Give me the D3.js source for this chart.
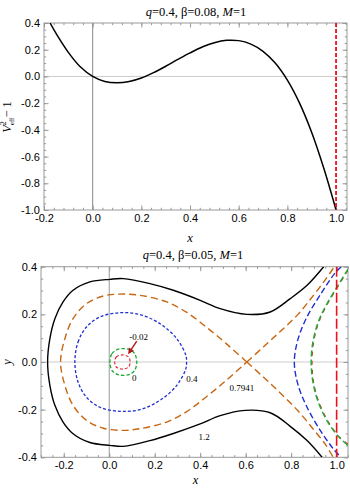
<!DOCTYPE html>
<html>
<head>
<meta charset="utf-8">
<script src="https://cdn.jsdelivr.net/npm/d3@7"></script>
<style>
body { margin: 0; background: #fff; }
svg { display: block; }
.tick text { font-family: "Liberation Sans", Arial, sans-serif; font-size: 11px; fill: #000; }
.domain { display: none; }
.tick line { stroke: #999; }
.ttl { font-family: "Liberation Serif", "Times New Roman", serif; font-size: 12.5px; }
.lvl { font-family: "Liberation Serif", "Times New Roman", serif; font-size: 9px; }
</style>
</head>
<body>
<svg id="chart" width="350" height="488"></svg>
<script>
// ---- top panel: V_eff^2 - 1 vs x  (q=0.4, beta=0.08, M=1)
const potX = [-0.175,-0.15,-0.1,-0.05,0,0.05,0.1,0.15,0.2,0.25,0.3,0.35,0.4,0.45,0.5,0.55,0.6,0.65,0.7,0.75,0.8,0.85,0.9,0.95,1.0];
const potY = [0.40,0.32,0.18,0.07,0,-0.038,-0.047,-0.038,-0.012,0.028,0.076,0.127,0.176,0.22,0.252,0.27,0.268,0.242,0.188,0.1,-0.028,-0.2,-0.42,-0.69,-1.0];
const topXTicks = [-0.2,0,0.2,0.4,0.6,0.8,1.0];
const topXLabels = ["-0.2","0.0","0.2","0.4","0.6","0.8","1.0"];
const topYTicks = [-1,-0.8,-0.6,-0.4,-0.2,0,0.2,0.4];
const topYLabels = ["-1.0","-0.8","-0.6","-0.4","-0.2","0.0","0.2","0.4"];
const horizonX = 1.0;

// ---- bottom panel: contours (q=0.4, beta=0.05, M=1)
const levelNames = ["-0.02","0","0.4","0.7941","1.2"];
const blackOuter = [[0.943,0.40],[0.87,0.322],[0.796,0.266],[0.708,0.21],[0.605,0.20],[0.488,0.224],[0.40,0.259],[0.282,0.301],[0.179,0.329],[0.062,0.35],[0.003,0.347],[-0.085,0.336],[-0.159,0.301],[-0.203,0.252],[-0.239,0.182],[-0.261,0.098],[-0.271,0],[-0.261,-0.098],[-0.239,-0.182],[-0.203,-0.252],[-0.159,-0.301],[-0.085,-0.338],[0.003,-0.35],[0.062,-0.354],[0.179,-0.33],[0.282,-0.30],[0.40,-0.26],[0.488,-0.225],[0.598,-0.203],[0.708,-0.213],[0.796,-0.27],[0.87,-0.33],[0.936,-0.40]];
const orangeLoop = [[0.605,0],[0.517,0.075],[0.429,0.145],[0.341,0.208],[0.253,0.252],[0.135,0.28],[0.047,0.285],[-0.026,0.277],[-0.1,0.245],[-0.159,0.182],[-0.195,0.098],[-0.214,0],[-0.195,-0.098],[-0.159,-0.182],[-0.1,-0.245],[-0.026,-0.278],[0.062,-0.287],[0.135,-0.28],[0.253,-0.252],[0.341,-0.208],[0.429,-0.145],[0.517,-0.075],[0.605,0]];
const orangeUp = [[0.605,0],[0.68,0.065],[0.752,0.128],[0.83,0.2],[0.9,0.282],[0.95,0.345],[0.99,0.40]];
const orangeDown = [[0.605,0],[0.68,-0.065],[0.752,-0.13],[0.83,-0.205],[0.9,-0.285],[0.95,-0.345],[0.985,-0.40]];
const blueLoop = [[-0.151,0],[-0.137,0.084],[-0.1,0.147],[-0.041,0.189],[0.047,0.207],[0.135,0.199],[0.223,0.161],[0.297,0.098],[0.337,0.028],[0.34,0],[0.337,-0.028],[0.297,-0.098],[0.223,-0.161],[0.135,-0.2],[0.047,-0.207],[-0.041,-0.19],[-0.1,-0.148],[-0.137,-0.084]];
const blueRight = [[1.02,0.40],[0.99,0.37],[0.93,0.285],[0.87,0.19],[0.83,0.095],[0.814,0],[0.83,-0.095],[0.87,-0.19],[0.93,-0.29],[0.99,-0.37],[1.02,-0.40]];
const greenLoop = [[0.003,0],[0.012,0.035],[0.035,0.052],[0.062,0.056],[0.09,0.052],[0.112,0.035],[0.121,0],[0.112,-0.035],[0.09,-0.052],[0.062,-0.056],[0.035,-0.052],[0.012,-0.035]];
const greenRight = [[1.05,0.39],[1.005,0.32],[0.955,0.24],[0.92,0.17],[0.897,0.09],[0.888,0],[0.897,-0.09],[0.92,-0.17],[0.96,-0.25],[1.01,-0.315],[1.05,-0.35]];
const redLoop = [[0.024,0],[0.031,0.021],[0.058,0.03],[0.085,0.021],[0.092,0],[0.085,-0.021],[0.058,-0.03],[0.031,-0.021]];
const redRight = [[1.05,0.385],[1.008,0.32],[0.958,0.24],[0.923,0.17],[0.9,0.09],[0.892,0],[0.9,-0.09],[0.923,-0.17],[0.963,-0.25],[1.013,-0.315],[1.05,-0.345]];
const botXTicks = [-0.2,0,0.2,0.4,0.6,0.8,1.0];
const botXLabels = ["-0.2","0.0","0.2","0.4","0.6","0.8","1.0"];
const botYTicks = [-0.4,-0.2,0,0.2,0.4];
const botYLabels = ["-0.4","-0.2","0.0","0.2","0.4"];

const svg = d3.select("#chart");

function frameAxes(g, x, y, xt, xl, yt, yl, xMinor, yMinor) {
    const [x0, x1] = x.range();
    const [y0, y1] = y.range();   // y0 bottom, y1 top
    const sides = [
        {mk: () => d3.axisBottom(x), t: `translate(0,${y0})`, lab: true, vals: xt, labs: xl, minor: xMinor},
        {mk: () => d3.axisTop(x), t: `translate(0,${y1})`, lab: false, vals: xt, minor: xMinor},
        {mk: () => d3.axisLeft(y), t: `translate(${x0},0)`, lab: true, vals: yt, labs: yl, minor: yMinor},
        {mk: () => d3.axisRight(y), t: `translate(${x1},0)`, lab: false, vals: yt, minor: yMinor}
    ];
    sides.forEach(s => {
        g.append("g").attr("transform", s.t)
            .call(s.mk().tickValues(s.minor).tickSizeInner(-2.2).tickSizeOuter(0).tickFormat(""));
        g.append("g").attr("transform", s.t)
            .call(s.mk().tickValues(s.vals).tickSizeInner(-4.5).tickSizeOuter(0).tickPadding(4)
                .tickFormat(s.lab ? (d, i) => s.labs[i] : ""));
    });
    g.append("rect").attr("x", x0).attr("y", y1)
        .attr("width", x1 - x0).attr("height", y0 - y1)
        .attr("fill", "none").attr("stroke", "#999").attr("stroke-width", 1);
}

function title(g, cx, cy, beta) {
    const t = g.append("text").attr("class", "ttl").attr("x", cx).attr("y", cy).attr("text-anchor", "middle");
    t.append("tspan").attr("font-style", "italic").text("q");
    t.append("tspan").text("=0.4, β=" + beta + ", ");
    t.append("tspan").attr("font-style", "italic").text("M");
    t.append("tspan").text("=1");
}

// ================= top panel
const xT = d3.scaleLinear().domain([-0.2, 1.045]).range([44, 347]);
const yT = d3.scaleLinear().domain([-1, 0.4]).range([210, 23]);

svg.append("clipPath").attr("id", "clipT").append("rect")
    .attr("x", 44).attr("y", 23).attr("width", 303).attr("height", 187);

const topG = svg.append("g");
topG.append("line").attr("x1", xT.range()[0]).attr("x2", xT.range()[1])
    .attr("y1", yT(0)).attr("y2", yT(0)).attr("stroke", "#ccc");
topG.append("line").attr("x1", xT(0)).attr("x2", xT(0))
    .attr("y1", yT(-1)).attr("y2", yT(0.4)).attr("stroke", "#888");

frameAxes(topG, xT, yT, topXTicks, topXLabels, topYTicks, topYLabels,
    d3.range(-0.2, 1.045, 0.04), d3.range(-1, 0.401, 0.05));

const lineT = d3.line().x((d, i) => xT(potX[i])).y((d, i) => yT(potY[i])).curve(d3.curveCatmullRom);
topG.append("path").attr("clip-path", "url(#clipT)")
    .attr("d", lineT(potX)).attr("fill", "none").attr("stroke", "#000").attr("stroke-width", 1.5);

topG.append("line").attr("x1", xT(horizonX)).attr("x2", xT(horizonX))
    .attr("y1", yT(0.4)).attr("y2", yT(-1))
    .attr("stroke", "#f01018").attr("stroke-width", 1.8).attr("stroke-dasharray", "4,2");

title(topG, 196, 16, "0.08");
topG.append("text").attr("class", "ttl").attr("x", xT(0.4)).attr("y", 242)
    .attr("text-anchor", "middle").attr("font-style", "italic").attr("font-size", 14).text("x");

const yl = topG.append("text").attr("class", "ttl")
    .attr("transform", "translate(11,117) rotate(-90)").attr("text-anchor", "middle").attr("font-size", 14);
yl.append("tspan").attr("font-style", "italic").text("V");
yl.append("tspan").attr("font-size", 8).attr("dy", -5).text("2");
yl.append("tspan").attr("font-size", 7).attr("dx", -4).attr("dy", 8).text("eff");
yl.append("tspan").attr("dy", -3).text("\u2212 1");

// ================= bottom panel
const xB = d3.scaleLinear().domain([-0.3, 1.05]).range([41, 348]);
const yB = d3.scaleLinear().domain([-0.4, 0.4]).range([457.3, 266.7]);

svg.append("clipPath").attr("id", "clipB").append("rect")
    .attr("x", 41).attr("y", 266.7).attr("width", 307).attr("height", 190.6);

const botG = svg.append("g");
botG.append("line").attr("x1", xB.range()[0]).attr("x2", xB.range()[1])
    .attr("y1", yB(0)).attr("y2", yB(0)).attr("stroke", "#ccc");
botG.append("line").attr("x1", xB(0)).attr("x2", xB(0))
    .attr("y1", yB(-0.4)).attr("y2", yB(0.4)).attr("stroke", "#999");

frameAxes(botG, xB, yB, botXTicks, botXLabels, botYTicks, botYLabels,
    d3.range(-0.3, 1.051, 0.05), d3.range(-0.4, 0.401, 0.05));

const lineB = d3.line().x(d => xB(d[0])).y(d => yB(d[1])).curve(d3.curveCatmullRom);
const loopB = d3.line().x(d => xB(d[0])).y(d => yB(d[1])).curve(d3.curveCatmullRomClosed);
const cg = botG.append("g").attr("clip-path", "url(#clipB)").attr("fill", "none");

const orange = "#c8650f", blue = "#1f2fd0", green = "#22aa33", red = "#e0202a";
cg.append("path").attr("d", lineB(blackOuter)).attr("stroke", "#000").attr("stroke-width", 1.4);
[orangeLoop, orangeUp, orangeDown].forEach(c =>
    cg.append("path").attr("d", lineB(c)).attr("stroke", orange).attr("stroke-width", 1.4).attr("stroke-dasharray", "7,4"));
cg.append("path").attr("d", loopB(blueLoop)).attr("stroke", blue).attr("stroke-width", 1.3).attr("stroke-dasharray", "3,2");
cg.append("path").attr("d", lineB(blueRight)).attr("stroke", blue).attr("stroke-width", 1.4).attr("stroke-dasharray", "6,3");
cg.append("path").attr("d", loopB(greenLoop)).attr("stroke", green).attr("stroke-width", 1.3).attr("stroke-dasharray", "3.5,2");
cg.append("path").attr("d", lineB(redRight)).attr("stroke", red).attr("stroke-width", 1.1).attr("stroke-dasharray", "4,5");
cg.append("path").attr("d", lineB(greenRight)).attr("stroke", green).attr("stroke-width", 1.5).attr("stroke-dasharray", "6,3");
cg.append("path").attr("d", loopB(redLoop)).attr("stroke", red).attr("stroke-width", 1.1).attr("stroke-dasharray", "3,2");
cg.append("line").attr("x1", xB(horizonX)).attr("x2", xB(horizonX))
    .attr("y1", yB(0.4)).attr("y2", yB(-0.4))
    .attr("stroke", "#f01018").attr("stroke-width", 1.6).attr("stroke-dasharray", "10,3");

// contour labels
const lvlAt = [[0.129, 0.1], [0.11, -0.073], [0.364, -0.077], [0.583, -0.112], [0.417, -0.319]];
levelNames.forEach((s, i) => {
    botG.append("text").attr("class", "lvl")
        .attr("x", xB(lvlAt[i][0])).attr("y", yB(lvlAt[i][1]))
        .attr("text-anchor", "middle").attr("dominant-baseline", "middle").text(s);
});

// arrow to the -0.02 loop
const aFrom = [0.121, 0.088], aTo = [0.083, 0.033];
const ax1 = xB(aFrom[0]), ay1 = yB(aFrom[1]), ax2 = xB(aTo[0]), ay2 = yB(aTo[1]);
const ang = Math.atan2(ay2 - ay1, ax2 - ax1);
botG.append("line").attr("x1", ax1).attr("y1", ay1)
    .attr("x2", ax2 - 4 * Math.cos(ang)).attr("y2", ay2 - 4 * Math.sin(ang))
    .attr("stroke", "#b01818").attr("stroke-width", 1.4);
const hl = 6, hw = 3;
const bx = ax2 - hl * Math.cos(ang), by = ay2 - hl * Math.sin(ang);
botG.append("polygon").attr("fill", "#b01818")
    .attr("points", [[ax2, ay2],
        [bx + hw * Math.sin(ang), by - hw * Math.cos(ang)],
        [bx - hw * Math.sin(ang), by + hw * Math.cos(ang)]].map(p => p.join(",")).join(" "));

title(botG, 193, 259, "0.05");
botG.append("text").attr("class", "ttl").attr("x", xB(0.38)).attr("y", 484)
    .attr("text-anchor", "middle").attr("font-style", "italic").attr("font-size", 13.5).text("x");
botG.append("text").attr("class", "ttl").attr("transform", "translate(11,362) rotate(-90)")
    .attr("text-anchor", "middle").attr("font-style", "italic").attr("font-size", 14).text("y");
</script>
</body>
</html>
